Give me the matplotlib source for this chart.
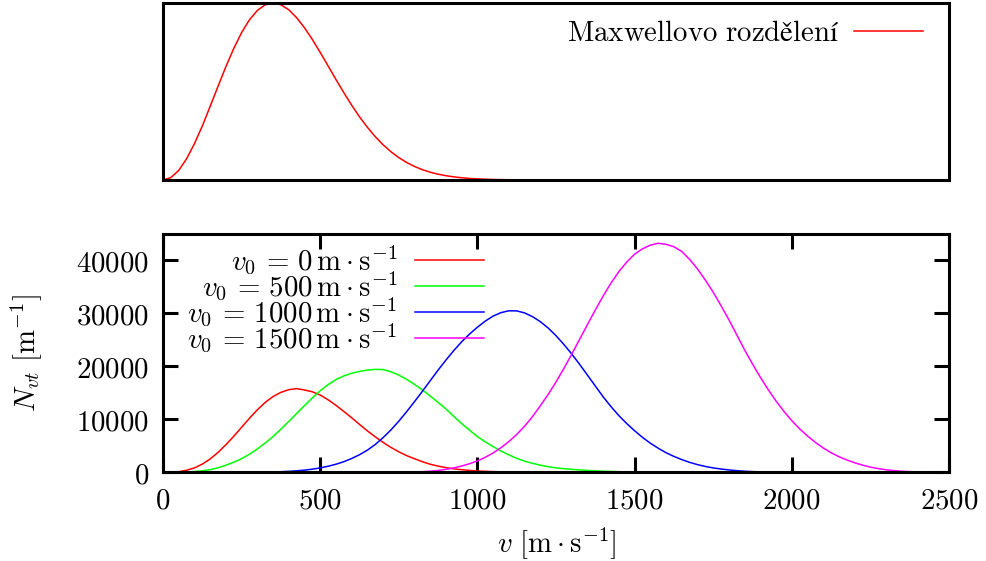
import matplotlib
matplotlib.use("Agg")
import matplotlib.pyplot as plt
import numpy as np

plt.rcParams['mathtext.fontset'] = 'cm'
plt.rcParams['font.family'] = ['DejaVu Serif']

W, H = 987, 561
FS = 20.8

# --- Maxwell distribution (arbitrary units), speed grid in m/s ---
speed_maxwell = np.arange(0, 1225, 25)
maxwell = [0, 0.0138, 0.054, 0.12, 0.205, 0.305, 0.416, 0.529, 0.64, 0.743,
           0.833, 0.905, 0.958, 0.99, 1.0, 0.99, 0.962, 0.917, 0.86, 0.794,
           0.721, 0.645, 0.568, 0.494, 0.423, 0.357, 0.298, 0.245, 0.199,
           0.1597, 0.1265, 0.0989, 0.0765, 0.0583, 0.044, 0.0328, 0.0242,
           0.0177, 0.01265, 0.0089, 0.0063, 0.0043, 0.003, 0.002, 0.0014,
           0.0009, 0.0006, 0.0004, 0.0002]

# --- N_vt for several drift velocities v0 ---
speed_v0_0 = np.arange(0, 1225, 25)
nvt_v0_0 = [0, 15, 110, 390, 830, 1550, 2520, 3750, 5200, 6800, 8500,
            10200, 11800, 13200, 14300, 15100, 15600, 15800, 15550, 15200,
            14600, 13700, 12650, 11500, 10300, 9050, 7820, 6700, 5650, 4700,
            3870, 3150, 2560, 2000, 1520, 1170, 880, 660, 490, 360, 256, 185,
            130, 90, 61, 42, 28, 18, 12]

speed_v0_500 = np.arange(0, 1625, 25)
nvt_v0_500 = [0, 5, 20, 70, 150, 290, 490, 850, 1340, 1900, 2570, 3420,
              4400, 5530, 6750, 8150, 9600, 11100, 12600, 14050, 15400,
              16550, 17500, 18200, 18700, 19050, 19300, 19430, 19400, 19000,
              18350, 17550, 16600, 15550, 14400, 13200, 11950, 10550, 9200,
              7950, 6750, 5750, 4850, 4020, 3300, 2650, 2100, 1700, 1350,
              1060, 830, 680, 560, 450, 360, 280, 210, 160, 110, 75, 50, 35,
              20, 10, 0]

speed_v0_1000 = np.arange(250, 2025, 25)
nvt_v0_1000 = [0, 5, 15, 30, 55, 110,
               180, 280, 410, 590, 830, 1140,
               1520, 2000, 2600, 3320, 4180, 5250,
               6550, 8000, 9650, 11450, 13350, 15300,
               17300, 19300, 21200, 23000, 24650, 26100,
               27400, 28550, 29500, 30150, 30500, 30480,
               30100, 29400, 28450, 27250, 25800, 24150,
               22350, 20400, 18350, 16300, 14250, 12400,
               10700, 9200, 7850, 6600, 5500, 4550,
               3700, 3000, 2400, 1880, 1450, 1100,
               830, 620, 450, 310, 200, 130,
               80, 45, 25, 12, 5]

speed_v0_1500 = np.arange(700, 2525, 25)
nvt_v0_1500 = [0, 4, 12, 30, 60, 115,
               200, 340, 560, 830, 1180, 1620,
               2150, 2830, 3650, 4650, 5800, 7150,
               8700, 10500, 12550, 14700, 17050, 19600,
               22300, 25100, 27900, 30650, 33300, 35750,
               37900, 39700, 41200, 42200, 42900, 43250,
               43050, 42600, 41700, 40200, 38400, 36300,
               34000, 31450, 28800, 25950, 23100, 20450,
               17950, 15600, 13450, 11500, 9750, 8200,
               6850, 5650, 4600, 3700, 2950, 2330,
               1800, 1350, 980, 700, 480, 320,
               200, 125, 75, 42, 22, 10, 4]

v0_values = ['0', '500', '1000', '1500']
series_colors = ['#ff0000', '#00ff00', '#0000ff', '#ff00ff']

x_ticks = [0, 500, 1000, 1500, 2000, 2500]
y_ticks = [0, 10000, 20000, 30000, 40000]

SPINE_W = 2.2


def px_axes(fig, left, top, right, bottom):
    return fig.add_axes([left / W, 1 - bottom / H, (right - left) / W,
                         (bottom - top) / H])


fig = plt.figure(figsize=(W / 100, H / 100), dpi=100)

# ---------- top panel ----------
ax1 = px_axes(fig, 163, 3, 949, 180)
ax1.plot(speed_maxwell, maxwell, color='#ff0000', lw=1.1,
         label=r'$\mathrm{Maxwellovo\ rozdělení}$')
ax1.set_xlim(0, 2500)
ax1.set_ylim(0, 1.0)
ax1.set_xticks([])
ax1.set_yticks([])
for s in ax1.spines.values():
    s.set_linewidth(SPINE_W)
ax1.legend(loc='center right', bbox_to_anchor=(0.967, 0.83),
           frameon=False, markerfirst=False, fontsize=FS,
           handlelength=2.4, handletextpad=0.5, borderpad=0,
           borderaxespad=0)

# ---------- bottom panel ----------
ax2 = px_axes(fig, 163, 234, 949, 472.3)
curves = [(speed_v0_0, nvt_v0_0), (speed_v0_500, nvt_v0_500),
          (speed_v0_1000, nvt_v0_1000), (speed_v0_1500, nvt_v0_1500)]
for (sx, sy), v0, c in zip(curves, v0_values, series_colors):
    ax2.plot(sx, sy, color=c, lw=1.1,
             label=r'$v_0\,=\,%s\,\mathrm{m}\cdot\mathrm{s}^{-1}$' % v0)

ax2.set_xlim(0, 2500)
ax2.set_ylim(0, 45000)
ax2.set_xticks(x_ticks)
ax2.set_xticklabels([r'$%d$' % t for t in x_ticks])
ax2.set_yticks(y_ticks)
ax2.set_yticklabels([r'$%d$' % t for t in y_ticks])
ax2.tick_params(direction='in', length=11, width=SPINE_W, top=True,
                right=True, labelsize=FS, pad=10)
for s in ax2.spines.values():
    s.set_linewidth(SPINE_W)

ax2.set_xlabel(r'$v\ [\mathrm{m}\cdot\mathrm{s}^{-1}]$', fontsize=FS)
ax2.set_ylabel(r'$N_{vt}\ [\mathrm{m}^{-1}]$', fontsize=FS)
ax2.xaxis.set_label_coords(0.501, -0.222)
ax2.yaxis.set_label_coords(-0.152, 0.5)

ax2.legend(loc='upper right', bbox_to_anchor=(0.4084, 0.96),
           frameon=False, markerfirst=False, fontsize=FS,
           handlelength=2.4, handletextpad=0.6, borderpad=0,
           borderaxespad=0, labelspacing=-0.25)

fig.savefig('out.png', dpi=100)
